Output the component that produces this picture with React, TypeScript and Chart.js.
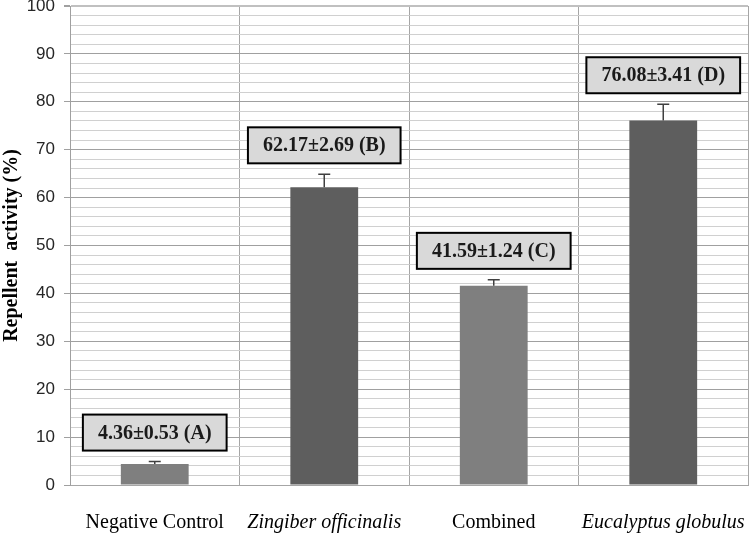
import React, { useEffect, useRef } from "react";
import { Chart, registerables } from "chart.js";

Chart.register(...registerables);

const categories = ["Negative Control", "Zingiber officinalis", "Combined", "Eucalyptus globulus"];
const italicCategory = [false, true, false, true];
const meanValues = [4.36, 62.17, 41.59, 76.08];
const errorValues = [0.53, 2.69, 1.24, 3.41];
const groupLetters = ["A", "B", "C", "D"];
const barColors = ["#7f7f7f", "#5e5e5e", "#7f7f7f", "#5e5e5e"];
const yTickValues = [0, 10, 20, 30, 40, 50, 60, 70, 80, 90, 100];

const annotationPlugin = {
  id: "errAndLabels",
  afterDatasetsDraw(chart: any) {
    const ctx = chart.ctx;
    const meta = chart.getDatasetMeta(0);
    const yScale = chart.scales.y;
    ctx.save();
    meta.data.forEach((bar: any, i: number) => {
      const x = bar.x;
      const yTop = yScale.getPixelForValue(meanValues[i]);
      const yErr = yScale.getPixelForValue(meanValues[i] + errorValues[i]);
      // error bar
      ctx.strokeStyle = "#404040";
      ctx.lineWidth = 1.5;
      ctx.beginPath();
      ctx.moveTo(x, yTop);
      ctx.lineTo(x, yErr);
      ctx.moveTo(x - 6, yErr);
      ctx.lineTo(x + 6, yErr);
      ctx.stroke();
      // label box
      const text = `${meanValues[i].toFixed(2)}±${errorValues[i].toFixed(2)} (${groupLetters[i]})`;
      ctx.font = "bold 20px 'Liberation Serif'";
      const tw = ctx.measureText(text).width;
      const bw = tw + 30;
      const bh = 36;
      const bottom = yErr - 11;
      const top = bottom - bh;
      ctx.fillStyle = "#d9d9d9";
      ctx.fillRect(x - bw / 2, top, bw, bh);
      ctx.strokeStyle = "#000000";
      ctx.lineWidth = 2;
      ctx.strokeRect(x - bw / 2, top, bw, bh);
      ctx.fillStyle = "#1a1a1a";
      ctx.textAlign = "center";
      ctx.textBaseline = "middle";
      ctx.fillText(text, x, top + bh / 2 + 1);
    });
    ctx.restore();
  },
};

export default function App() {
  const canvasRef = useRef<HTMLCanvasElement | null>(null);

  useEffect(() => {
    if (!canvasRef.current) return;
    const chart = new Chart(canvasRef.current, {
      type: "bar",
      data: {
        labels: categories,
        datasets: [
          {
            data: meanValues,
            backgroundColor: barColors,
            borderWidth: 0,
            barPercentage: 0.4,
            categoryPercentage: 1,
          },
        ],
      },
      options: {
        animation: false,
        responsive: true,
        maintainAspectRatio: false,
        layout: { padding: { left: 0, right: 2, top: 6, bottom: 0 } },
        plugins: {
          legend: { display: false },
          tooltip: { enabled: false },
        },
        scales: {
          x: {
            grid: {
              offset: true,
              color: "#a6a6a6",
              lineWidth: 1,
              drawTicks: false,
            },
            border: { color: "#a6a6a6", width: 1 },
            ticks: {
              padding: 26,
              color: "#000000",
              font: (c: any) => ({
                family: "'Liberation Serif'",
                size: 20,
                style: italicCategory[c.index] ? "italic" : "normal",
              }),
            },
            afterFit: (scale: any) => {
              scale.height = 48;
              scale.paddingLeft = 0;
              scale.paddingRight = 0;
            },
          },
          y: {
            min: 0,
            max: 100,
            afterBuildTicks: (scale: any) => {
              const t: any[] = [];
              for (let v = 0; v <= 100; v += 2) t.push({ value: v });
              scale.ticks = t;
            },
            ticks: {
              autoSkip: false,
              padding: 9,
              color: "#262626",
              font: { family: "'Liberation Sans'", size: 17 },
              callback: (v: any) => (yTickValues.includes(Number(v)) ? String(v) : ""),
            },
            grid: {
              color: (c: any) => {
                const v = c.tick ? c.tick.value : 0;
                if (v === 100) return "#c0c0c0";
                return v % 10 === 0 ? "#a0a0a0" : "#d0d0d0";
              },
              lineWidth: (c: any) => (c.tick && c.tick.value === 100 ? 2 : 1),
              tickColor: (c: any) => (c.tick && c.tick.value % 10 === 0 ? "#a0a0a0" : "rgba(0,0,0,0)"),
              tickLength: 6,
            },
            border: { color: "#a0a0a0", width: 1 },
            title: {
              display: true,
              text: "Repellent  activity (%)",
              color: "#000000",
              font: { family: "'Liberation Serif'", size: 20, weight: "bold" },
              padding: { top: 0, bottom: 0 },
            },
            afterFit: (scale: any) => {
              scale.width = 70;
              scale.paddingTop = 0;
              scale.paddingBottom = 0;
            },
          },
        },
      },
      plugins: [annotationPlugin],
    });
    return () => chart.destroy();
  }, []);

  return (
    <div style={{ position: "absolute", left: 0, top: 0, width: 750, height: 533, background: "#ffffff" }}>
      <canvas ref={canvasRef} />
    </div>
  );
}
